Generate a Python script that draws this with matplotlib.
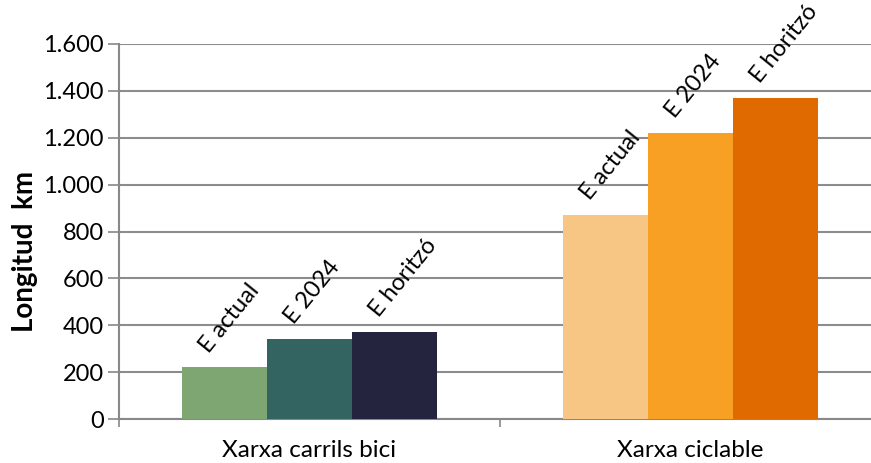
import matplotlib.pyplot as plt
import numpy as np

plt.rcParams['font.family'] = ['Lato', 'DejaVu Sans']

groups = ['Xarxa carrils bici', 'Xarxa ciclable']
scenarios = ['E actual', 'E 2024', 'E horitzó']
carrils_bici = [220, 340, 370]
ciclable = [870, 1220, 1370]
colors_bici = ['#7ea673', '#336462', '#24243e']
colors_ciclable = ['#f8c684', '#f7a023', '#e06900']

fig = plt.figure(figsize=(8.71, 4.63), dpi=100)
ax = fig.add_axes([0.1366, 0.095, 0.875, 0.81])

width = 0.223
x = np.arange(len(groups))
for vals, cols, gx in [(carrils_bici, colors_bici, x[0]), (ciclable, colors_ciclable, x[1])]:
    for i, (v, c, name) in enumerate(zip(vals, cols, scenarios)):
        bx = gx + (i - 1) * width
        ax.bar(bx, v, width, color=c, zorder=3)
        ax.annotate(name, (bx, v), xytext=(-11, 10), textcoords='offset points',
                    rotation=51, rotation_mode='anchor', ha='left', va='baseline',
                    fontsize=17, color='black')

ax.set_xlim(-0.5, 1.5)
ax.set_ylim(0, 1600)
ax.set_yticks(np.arange(0, 1601, 200))
ax.set_yticklabels([f'{v:,}'.replace(',', '.') for v in range(0, 1601, 200)])
ax.set_xticks([-0.5, 0.5])
ax.set_xticklabels([])
ax.set_xticks(x, minor=True)
ax.set_xticklabels(groups, minor=True)
ax.tick_params(axis='x', which='minor', length=0, labelsize=17.5, pad=15)
ax.tick_params(axis='x', which='major', length=6, width=1.2, color='#888888', direction='out')
ax.tick_params(axis='y', length=8, width=1.2, color='#888888', labelsize=17, pad=3)

ax.yaxis.grid(True, color='#8c8c8c', linewidth=1.5, zorder=0)
for s in ['top', 'right']:
    ax.spines[s].set_visible(False)
for s in ['left', 'bottom']:
    ax.spines[s].set_color('#888888')
    ax.spines[s].set_linewidth(1.5)

ax.set_ylabel('Longitud  km', fontsize=20, fontweight='bold')
ax.yaxis.set_label_coords(-0.106, 0.448)

fig.savefig('out.png', dpi=100)
